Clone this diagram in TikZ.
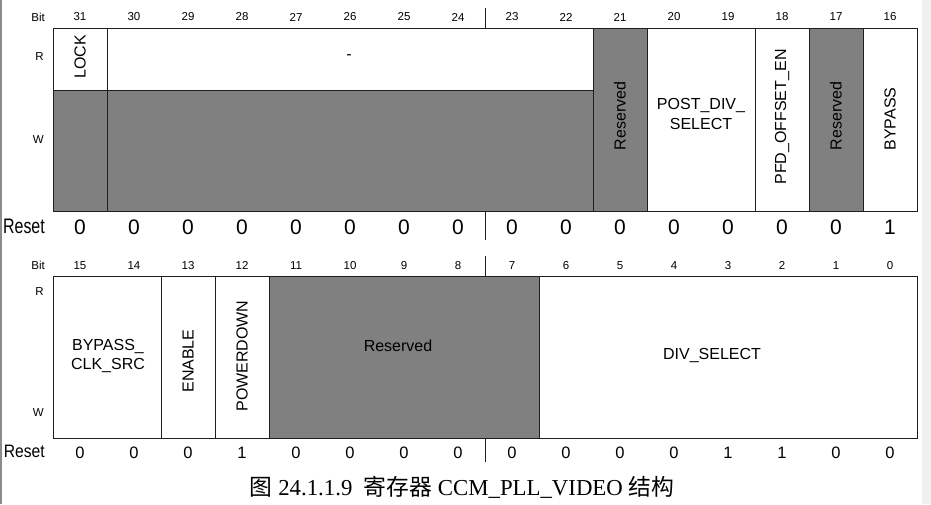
\documentclass[tikz,border=0pt]{standalone}
\usepackage{fontspec}
\setmainfont{Liberation Sans}
\newfontfamily\capserif{Liberation Serif}
\newfontfamily\cjk{Noto Sans CJK SC}
\definecolor{regfill}{HTML}{808080}
\definecolor{regline}{HTML}{1E1E1E}
\begin{document}
\begin{tikzpicture}[x=1pt,y=-1pt,
  cellw/.style={draw=regline, line width=0.8pt, fill=white},
  cellg/.style={draw=regline, line width=0.8pt, fill=regfill},
  tick/.style={draw=regline, line width=0.8pt},
  bitnum/.style={font=\fontsize{11.5}{11.5}\selectfont, inner sep=0pt},
  fieldtxt/.style={font=\fontsize{16}{19.5}\selectfont, align=center, inner sep=0pt},
  rottxt/.style={fieldtxt, rotate=90},
  rstbig/.style={font=\fontsize{21}{21}\selectfont, inner sep=0pt},
  rstsmall/.style={font=\fontsize{16.5}{16.5}\selectfont, inner sep=0pt},
  side/.style={font=\fontsize{11.5}{11.5}\selectfont, anchor=east, inner sep=0pt}]

\useasboundingbox (0,0) rectangle (931,504);
\fill[white] (0,0) rectangle (931,504);
\fill[black!6] (922,0) rectangle (931,504);
\draw[black!45, line width=1.5pt] (0.75,0) -- (0.75,504);

% ---------- top register (bits 31..16) ----------
\node[side] (tbit) at (45,17) {Bit};
\node[side] (tr) at (44,57) {R};
\node[side] (tw) at (44,140) {W};
\node[anchor=east, inner sep=0pt] (treset) at (45,226) {\fontsize{21}{21}\selectfont\scalebox{0.76}[1]{Reset}};

\foreach \b [count=\k from 0] in {31,30,29,28,27,26,25,24,23,22,21,20,19,18,17,16}
  \node[bitnum] (tb\b) at ({80+54*\k},17) {\b};
\foreach \v [count=\k from 0] in {0,0,0,0,0,0,0,0,0,0,0,0,0,0,0,1}
  \node[rstbig] (tv\k) at ({80+54*\k},227.5) {\v};

\path[cellw] (53,28) rectangle (107,90);
\path[cellg] (53,90) rectangle (107,211);
\path[cellw] (107,28) rectangle (593,90);
\path[cellg] (107,90) rectangle (593,211);
\path[cellg] (593,28) rectangle (647,211);
\path[cellw] (647,28) rectangle (755,211);
\path[cellw] (755,28) rectangle (809,211);
\path[cellg] (809,28) rectangle (863,211);
\path[cellw] (863,28) rectangle (917,211);

\node[rottxt] (lock) at (80,57) {LOCK};
\node[fieldtxt] (dash) at (349,57) {-};
\node[rottxt] (res21) at (620,116) {Reserved};
\node[fieldtxt] (postdiv) at (701,114) {POST\_DIV\_\\SELECT};
\node[rottxt] (pfd) at (782,117) {PFD\_OFFSET\_EN};
\node[rottxt] (res17) at (836,116) {Reserved};
\node[rottxt] (bypass) at (890,119) {BYPASS};

\coordinate (tt1) at (485,8);
\coordinate (tt2) at (485,28);
\coordinate (tt3) at (485,211);
\coordinate (tt4) at (485,240);
\draw[tick] (tt1) -- (tt2);
\draw[tick] (tt3) -- (tt4);

% ---------- bottom register (bits 15..0) ----------
\node[side] (bbit) at (45,265.5) {Bit};
\node[side] (br) at (44,292) {R};
\node[side] (bw) at (44,413) {W};
\node[anchor=east, inner sep=0pt] (breset) at (45,451.5) {\fontsize{18}{18}\selectfont\scalebox{0.87}[1]{Reset}};

\foreach \b [count=\k from 0] in {15,14,13,12,11,10,9,8,7,6,5,4,3,2,1,0}
  \node[bitnum] (bb\b) at ({80+54*\k},265.5) {\b};
\foreach \v [count=\k from 0] in {0,0,0,1,0,0,0,0,0,0,0,0,1,1,0,0}
  \node[rstsmall] (bv\k) at ({80+54*\k},452.5) {\v};

\path[cellw] (53,276) rectangle (161,438);
\path[cellw] (161,276) rectangle (215,438);
\path[cellw] (215,276) rectangle (269,438);
\path[cellg] (269,276) rectangle (539,438);
\path[cellw] (539,276) rectangle (917,438);

\node[fieldtxt] (bclk) at (108,356) {BYPASS\_\\CLK\_SRC};
\node[rottxt] (enable) at (188,361) {ENABLE};
\node[rottxt] (pwd) at (242,356) {POWERDOWN};
\node[fieldtxt] (resb) at (398,346) {Reserved};
\node[fieldtxt] (divsel) at (712,355) {DIV\_SELECT};

\coordinate (bt1) at (485,256);
\coordinate (bt2) at (485,276);
\coordinate (bt3) at (485,438);
\coordinate (bt4) at (485,462);
\draw[tick] (bt1) -- (bt2);
\draw[tick] (bt3) -- (bt4);

% ---------- caption ----------
\node[inner sep=0pt, font=\fontsize{22.8}{22.8}\selectfont] (cap) at (462,487)
  {\cjk 图\capserif\ 24.1.1.9\ \ \cjk 寄存器\capserif\ CCM\_PLL\_VIDEO\ \cjk 结构};
\end{tikzpicture}
\end{document}
